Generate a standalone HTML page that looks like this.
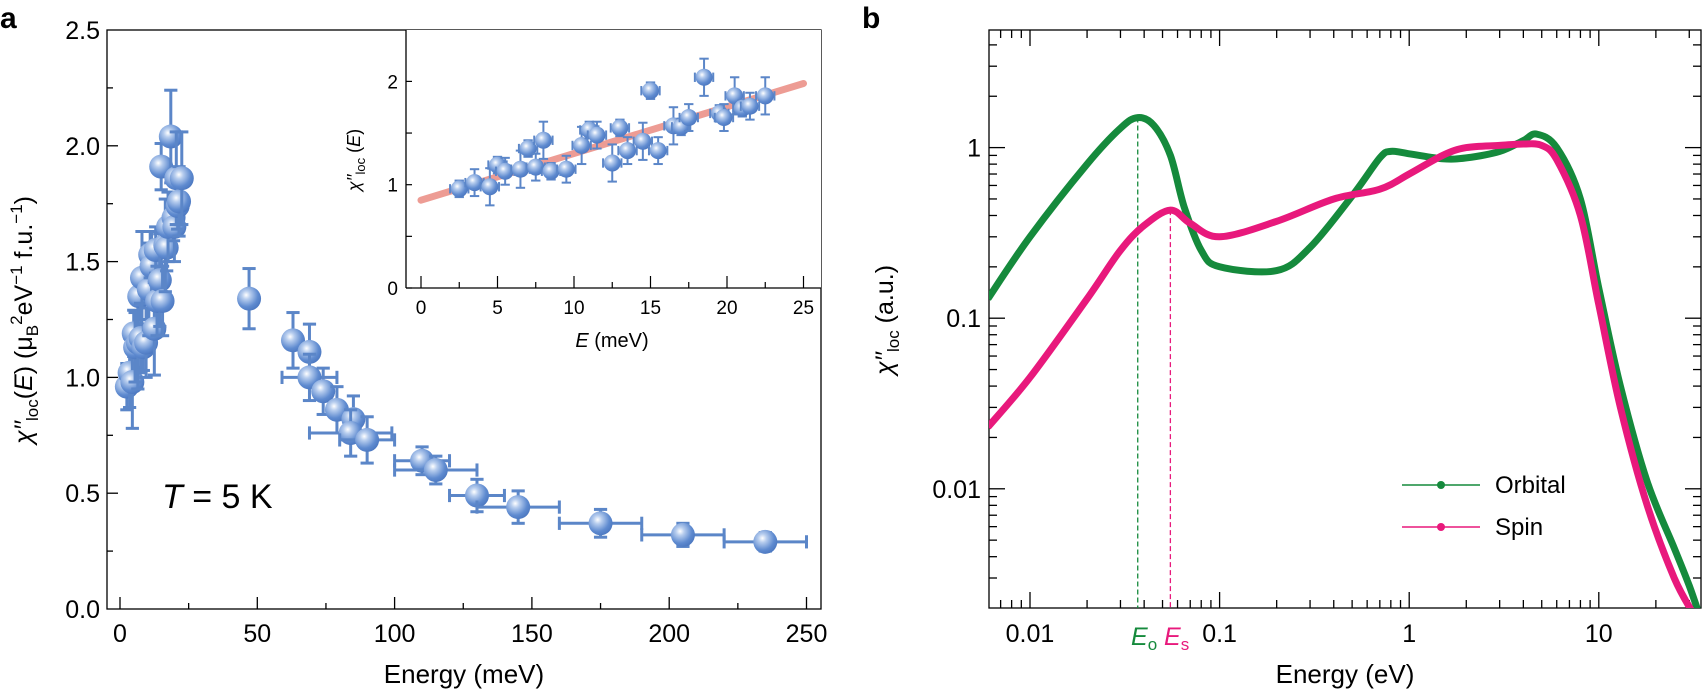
<!DOCTYPE html>
<html><head><meta charset="utf-8"><style>
html,body{margin:0;padding:0;background:#fff;}
svg{display:block;font-family:"Liberation Sans",sans-serif;}
</style></head><body>
<svg id="s" width="1703" height="691" viewBox="0 0 1703 691">
<defs>
<radialGradient id="g" cx="0.38" cy="0.35" r="0.7">
<stop offset="0" stop-color="#ffffff"/><stop offset="0.25" stop-color="#b7cdee"/><stop offset="0.7" stop-color="#5f8bd0"/><stop offset="1" stop-color="#4a76bf"/>
</radialGradient>
</defs>
<text x="0" y="28" font-size="30" font-weight="bold">a</text>
<text x="862" y="28" font-size="30" font-weight="bold">b</text>
<g id="A"></g>
<g id="B"></g>
</svg>
<script>
var NS="http://www.w3.org/2000/svg";
function el(p,t,a,txt){var e=document.createElementNS(NS,t);for(var k in a)e.setAttribute(k,a[k]);if(txt!==undefined)e.textContent=txt;p.appendChild(e);return e;}
var A=document.getElementById('A'),B=document.getElementById('B');
var ax=function(E){return 120+E*2.746;}, ay=function(v){return 609-v*231.6;};
el(A,'rect',{x:107,y:30,width:714,height:579,fill:'none',stroke:'#000','stroke-width':1.3});
for(var i=0;i<=5;i++){var y=ay(i*0.5);el(A,'line',{x1:107,x2:i==0||i==5?107:118,y1:y,y2:y,stroke:'#000','stroke-width':1.3});
el(A,'text',{x:100,y:y+9,'font-size':25,'text-anchor':'end'},(i*0.5).toFixed(1));
if(i<5){var y2=ay(i*0.5+0.25);el(A,'line',{x1:107,x2:113,y1:y2,y2:y2,stroke:'#000','stroke-width':1.3});}}
for(var i=0;i<=10;i++){var x=ax(i*25);el(A,'line',{x1:x,x2:x,y1:609,y2:i%2?603:597,stroke:'#000','stroke-width':1.3});
if(i%2==0)el(A,'text',{x:x,y:642,'font-size':25,'text-anchor':'middle'},String(i*25));}
el(A,'text',{x:464,y:683,'font-size':26,'text-anchor':'middle'},'Energy (meV)');
var yl=el(A,'text',{transform:'translate(32,320) rotate(-90)','font-size':25,'text-anchor':'middle'});
yl.innerHTML='<tspan font-style="italic">χ′′</tspan><tspan font-size="17" dy="6">loc</tspan><tspan dy="-6">(</tspan><tspan font-style="italic">E</tspan><tspan>) (μ</tspan><tspan font-size="17" dy="6">B</tspan><tspan font-size="17" dy="-16">2</tspan><tspan dy="10">eV</tspan><tspan font-size="17" dy="-10">−1</tspan><tspan dy="10"> f.u.</tspan><tspan font-size="17" dy="-10">−1</tspan><tspan dy="10">)</tspan>';
var tt=el(A,'text',{x:162,y:508,'font-size':34});tt.innerHTML='<tspan font-style="italic">T</tspan> = 5 K';
var low=[[2.5,0.96],[3.5,1.02],[4.5,0.98],[5,1.19],[5.5,1.13],[6.5,1.15],[7,1.35],[7.5,1.17],[8,1.43],[8.5,1.13],[9.5,1.15],[10.5,1.38],[11,1.53],[11.5,1.48],[12.5,1.21],[13,1.55],[13.5,1.33],[14.5,1.42],[15,1.91],[15.5,1.33],[16.5,1.57],[17,1.56],[17.5,1.65],[18.5,2.04],[19.5,1.69],[19.8,1.65],[20.5,1.86],[21,1.74],[21.5,1.76],[22.5,1.86]];
var C='#5b86c8';
function pt(g,fx,fy,E,v,xe,ye,r,w){var x=fx(E),y=fy(v);
if(xe){el(g,'line',{x1:fx(E-xe),x2:fx(E+xe),y1:y,y2:y,stroke:C,'stroke-width':w});
[fx(E-xe),fx(E+xe)].forEach(function(q){el(g,'line',{x1:q,x2:q,y1:y-r*0.55,y2:y+r*0.55,stroke:C,'stroke-width':w});});}
if(ye){el(g,'line',{x1:x,x2:x,y1:fy(v-ye),y2:fy(v+ye),stroke:C,'stroke-width':w});
[fy(v-ye),fy(v+ye)].forEach(function(q){el(g,'line',{x1:x-r*0.55,x2:x+r*0.55,y1:q,y2:q,stroke:C,'stroke-width':w});});}
el(g,'circle',{cx:x,cy:y,r:r,fill:'url(#g)'});}
low.forEach(function(p,i){pt(A,ax,ay,p[0],p[1],0.8,0.1+0.05*(i%3),12,3);});
var hi=[[47,1.34,0,0.13],[63,1.16,0,0.12],[69,1.11,0,0.12],[69,1.0,10,0.1],[74,0.94,0,0.1],[79,0.86,0,0.1],[85,0.82,0,0.1],[84,0.76,15,0.1],[90,0.73,10,0.1],[110,0.64,10,0.06],[115,0.6,15,0.06],[130,0.49,10,0.07],[145,0.44,15,0.07],[175,0.37,15,0.06],[205,0.32,15,0.05],[235,0.29,15,0.04]];
hi.forEach(function(p){pt(A,ax,ay,p[0],p[1],p[2],p[3],12,3);});
var ix=function(E){return 421+E*15.3;}, iy=function(v){return 288-v*103.3;};
el(A,'rect',{x:406,y:30,width:415,height:258,fill:'#fff',stroke:'none'});
el(A,'line',{x1:406,x2:406,y1:30,y2:288,stroke:'#000','stroke-width':1.3});
el(A,'line',{x1:406,x2:821,y1:288,y2:288,stroke:'#000','stroke-width':1.3});
for(var i=0;i<=4;i++){var y=iy(i*0.5);el(A,'line',{x1:406,x2:412,y1:y,y2:y,stroke:'#000','stroke-width':1.2});
if(i%2==0)el(A,'text',{x:398,y:y+7,'font-size':19,'text-anchor':'end'},String(i/2));}
for(var i=0;i<=10;i++){var x=ix(i*2.5);el(A,'line',{x1:x,x2:x,y1:288,y2:i%2?282:276,stroke:'#000','stroke-width':1.2});
if(i%2==0)el(A,'text',{x:x,y:314,'font-size':19,'text-anchor':'middle'},String(i*2.5));}
var il=el(A,'text',{x:612,y:347,'font-size':20,'text-anchor':'middle'});il.innerHTML='<tspan font-style="italic">E</tspan> (meV)';
var iyl=el(A,'text',{transform:'translate(360,160) rotate(-90)','font-size':18,'text-anchor':'middle'});
iyl.innerHTML='<tspan font-style="italic">χ′′</tspan><tspan font-size="13" dy="5">loc</tspan><tspan dy="-5"> (</tspan><tspan font-style="italic">E</tspan>)';
el(A,'line',{x1:ix(0),y1:iy(0.85),x2:ix(25),y2:iy(1.98),stroke:'#e9847a','stroke-width':7,'stroke-linecap':'round',opacity:0.8});
low.forEach(function(p,i){pt(A,ix,iy,p[0],p[1],0.6,0.08+0.05*(i%3),8.5,2);});
var L=989,R=1701,T=30,Bo=608;
var bx=function(E){return 1030+(Math.log10(E)+2)*189.6;}, by=function(v){return 147.6-Math.log10(v)*170.6;};
el(B,'rect',{x:L,y:T,width:R-L,height:Bo-T,fill:'none',stroke:'#000','stroke-width':1.3});
for(var d=-3;d<=1;d++)for(var m=1;m<10;m++){var x=bx(m*Math.pow(10,d));if(x<L||x>R)continue;var len=m==1?16:8;
el(B,'line',{x1:x,x2:x,y1:Bo,y2:Bo-len,stroke:'#000','stroke-width':1.3});el(B,'line',{x1:x,x2:x,y1:T,y2:T+len,stroke:'#000','stroke-width':1.3});}
for(var d=-3;d<=0;d++)for(var m=1;m<10;m++){var y=by(m*Math.pow(10,d));if(y<T||y>Bo)continue;var len=m==1?16:8;
el(B,'line',{x1:L,x2:L+len,y1:y,y2:y,stroke:'#000','stroke-width':1.3});el(B,'line',{x1:R,x2:R-len,y1:y,y2:y,stroke:'#000','stroke-width':1.3});}
[['0.01',0.01],['0.1',0.1],['1',1],['10',10]].forEach(function(t){el(B,'text',{x:bx(t[1]),y:642,'font-size':25,'text-anchor':'middle'},t[0]);});
[['1',1],['0.1',0.1],['0.01',0.01]].forEach(function(t){el(B,'text',{x:981,y:by(t[1])+9,'font-size':25,'text-anchor':'end'},t[0]);});
el(B,'text',{x:1345,y:683,'font-size':26,'text-anchor':'middle'},'Energy (eV)');
var byl=el(B,'text',{transform:'translate(893,320) rotate(-90)','font-size':25,'text-anchor':'middle'});
byl.innerHTML='<tspan font-style="italic">χ′′</tspan><tspan font-size="17" dy="6">loc</tspan><tspan dy="-6"> (a.u.)</tspan>';
function curve(pts,col){
var P=pts.map(function(q){return [bx(q[0]),by(q[1])];});
var d='M'+P[0][0].toFixed(1)+' '+P[0][1].toFixed(1);
for(var i=0;i<P.length-1;i++){var p0=P[Math.max(0,i-1)],p1=P[i],p2=P[i+1],p3=P[Math.min(P.length-1,i+2)];
var c1=[p1[0]+(p2[0]-p0[0])/6,p1[1]+(p2[1]-p0[1])/6],c2=[p2[0]-(p3[0]-p1[0])/6,p2[1]-(p3[1]-p1[1])/6];
d+='C'+c1[0].toFixed(1)+' '+c1[1].toFixed(1)+' '+c2[0].toFixed(1)+' '+c2[1].toFixed(1)+' '+p2[0].toFixed(1)+' '+p2[1].toFixed(1);}
el(B,'path',{d:d,fill:'none',stroke:col,'stroke-width':7,'stroke-linejoin':'round','clip-path':'url(#cb)'});}
var cp=el(document.querySelector('defs'),'clipPath',{id:'cb'});el(cp,'rect',{x:L,y:T,width:R-L,height:Bo-T});
var orb=[[0.006,0.13],[0.01,0.3],[0.02,0.8],[0.03,1.3],[0.037,1.5],[0.045,1.35],[0.055,0.9],[0.065,0.45],[0.08,0.25],[0.1,0.2],[0.2,0.19],[0.3,0.26],[0.5,0.52],[0.7,0.87],[0.8,0.95],[1,0.92],[1.5,0.86],[2,0.87],[3,0.95],[4,1.1],[4.7,1.2],[6,1.0],[8,0.5],[10,0.15],[13,0.04],[18,0.011],[25,0.0045],[30,0.0027],[34,0.0018]];
var spin=[[0.006,0.023],[0.01,0.045],[0.02,0.13],[0.03,0.25],[0.04,0.35],[0.055,0.43],[0.07,0.36],[0.1,0.3],[0.2,0.37],[0.4,0.5],[0.7,0.57],[1,0.7],[1.5,0.9],[2,1.0],[3,1.03],[4,1.05],[5,1.03],[6,0.85],[8,0.4],[10,0.12],[13,0.03],[18,0.008],[25,0.003],[32,0.0018]];
var G='#158a3c',P='#e8197c';
el(B,'line',{x1:bx(0.037),x2:bx(0.037),y1:by(1.5),y2:Bo,stroke:G,'stroke-width':1.3,'stroke-dasharray':'5,3'});
el(B,'line',{x1:bx(0.055),x2:bx(0.055),y1:by(0.43),y2:Bo,stroke:P,'stroke-width':1.3,'stroke-dasharray':'5,3'});
curve(orb,G);curve(spin,P);
el(B,'line',{x1:1402,x2:1480,y1:485,y2:485,stroke:G,'stroke-width':1.5});el(B,'circle',{cx:1441,cy:485,r:4,fill:G});
el(B,'line',{x1:1402,x2:1480,y1:527,y2:527,stroke:P,'stroke-width':1.5});el(B,'circle',{cx:1441,cy:527,r:4,fill:P});
el(B,'text',{x:1495,y:493,'font-size':24},'Orbital');el(B,'text',{x:1495,y:535,'font-size':24},'Spin');
var eo=el(B,'text',{x:1131,y:645,'font-size':25,fill:G});eo.innerHTML='<tspan font-style="italic">E</tspan><tspan font-size="17" dy="5">o</tspan>';
var es=el(B,'text',{x:1164,y:645,'font-size':25,fill:P});es.innerHTML='<tspan font-style="italic">E</tspan><tspan font-size="17" dy="5">s</tspan>';
</script>
</body></html>
